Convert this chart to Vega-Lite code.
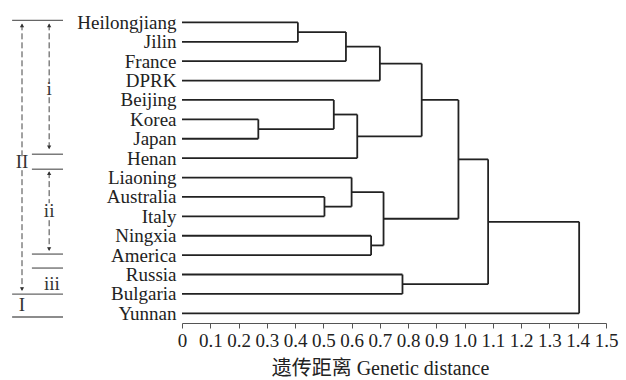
{
  "$schema": "https://vega.github.io/schema/vega-lite/v6.json",
  "width": 424,
  "height": 320,
  "autosize": {"type": "none"},
  "padding": {"left": 182, "top": 3, "right": 20, "bottom": 57},
  "background": "white",
  "config": {"view": {"stroke": null}, "font": "Liberation Serif",
    "axis": {"labelFont": "Liberation Serif", "titleFont": "Liberation Serif, Noto Sans CJK SC"},
    "text": {"font": "Liberation Serif"}},
  "datasets": {
    "seg": [
      {"x": 0, "x2": 0.41, "y": 0, "y2": 0}, {"x": 0, "x2": 0.41, "y": 1, "y2": 1}, {"x": 0.41, "x2": 0.41, "y": 0, "y2": 1},
      {"x": 0.41, "x2": 0.58, "y": 0.5, "y2": 0.5}, {"x": 0, "x2": 0.58, "y": 2, "y2": 2}, {"x": 0.58, "x2": 0.58, "y": 0.5, "y2": 2},
      {"x": 0.58, "x2": 0.70, "y": 1.25, "y2": 1.25}, {"x": 0, "x2": 0.70, "y": 3, "y2": 3}, {"x": 0.70, "x2": 0.70, "y": 1.25, "y2": 3},
      {"x": 0, "x2": 0.27, "y": 5, "y2": 5}, {"x": 0, "x2": 0.27, "y": 6, "y2": 6}, {"x": 0.27, "x2": 0.27, "y": 5, "y2": 6},
      {"x": 0, "x2": 0.537, "y": 4, "y2": 4}, {"x": 0.27, "x2": 0.537, "y": 5.5, "y2": 5.5}, {"x": 0.537, "x2": 0.537, "y": 4, "y2": 5.5},
      {"x": 0.537, "x2": 0.62, "y": 4.75, "y2": 4.75}, {"x": 0, "x2": 0.62, "y": 7, "y2": 7}, {"x": 0.62, "x2": 0.62, "y": 4.75, "y2": 7},
      {"x": 0.70, "x2": 0.848, "y": 2.125, "y2": 2.125}, {"x": 0.62, "x2": 0.848, "y": 5.875, "y2": 5.875}, {"x": 0.848, "x2": 0.848, "y": 2.125, "y2": 5.875},
      {"x": 0, "x2": 0.504, "y": 9, "y2": 9}, {"x": 0, "x2": 0.504, "y": 10, "y2": 10}, {"x": 0.504, "x2": 0.504, "y": 9, "y2": 10},
      {"x": 0, "x2": 0.60, "y": 8, "y2": 8}, {"x": 0.504, "x2": 0.60, "y": 9.5, "y2": 9.5}, {"x": 0.60, "x2": 0.60, "y": 8, "y2": 9.5},
      {"x": 0, "x2": 0.669, "y": 11, "y2": 11}, {"x": 0, "x2": 0.669, "y": 12, "y2": 12}, {"x": 0.669, "x2": 0.669, "y": 11, "y2": 12},
      {"x": 0.60, "x2": 0.713, "y": 8.75, "y2": 8.75}, {"x": 0.669, "x2": 0.713, "y": 11.5, "y2": 11.5}, {"x": 0.713, "x2": 0.713, "y": 8.75, "y2": 11.5},
      {"x": 0.848, "x2": 0.978, "y": 4.0, "y2": 4.0}, {"x": 0.713, "x2": 0.978, "y": 10.125, "y2": 10.125}, {"x": 0.978, "x2": 0.978, "y": 4.0, "y2": 10.125},
      {"x": 0, "x2": 0.78, "y": 13, "y2": 13}, {"x": 0, "x2": 0.78, "y": 14, "y2": 14}, {"x": 0.78, "x2": 0.78, "y": 13, "y2": 14},
      {"x": 0.978, "x2": 1.083, "y": 7.0625, "y2": 7.0625}, {"x": 0.78, "x2": 1.083, "y": 13.5, "y2": 13.5}, {"x": 1.083, "x2": 1.083, "y": 7.0625, "y2": 13.5},
      {"x": 1.083, "x2": 1.405, "y": 10.28125, "y2": 10.28125}, {"x": 0, "x2": 1.405, "y": 15, "y2": 15}, {"x": 1.405, "x2": 1.405, "y": 10.28125, "y2": 15}
    ],
    "hlines": [
      {"x": -0.601, "x2": -0.421, "y": -0.103}, {"x": -0.531, "x2": -0.421, "y": 6.797}, {"x": -0.531, "x2": -0.421, "y": 7.57},
      {"x": -0.531, "x2": -0.421, "y": 11.946}, {"x": -0.531, "x2": -0.421, "y": 12.667}, {"x": -0.601, "x2": -0.421, "y": 14.006},
      {"x": -0.601, "x2": -0.421, "y": 15.19}
    ],
    "dashes": [
      {"x": -0.566, "y": 0.1, "y2": 6.95}, {"x": -0.566, "y": 7.62, "y2": 13.8},
      {"x": -0.470, "y": 0.1, "y2": 3.09}, {"x": -0.470, "y": 3.86, "y2": 6.5},
      {"x": -0.470, "y": 7.72, "y2": 9.32}, {"x": -0.470, "y": 10.2, "y2": 11.74}
    ],
    "arrows": [
      {"x": -0.566, "y": 0.15, "dir": "up"}, {"x": -0.566, "y": 13.75, "dir": "down"},
      {"x": -0.470, "y": 0.15, "dir": "up"}, {"x": -0.470, "y": 6.44, "dir": "down"},
      {"x": -0.470, "y": 7.77, "dir": "up"}, {"x": -0.470, "y": 11.69, "dir": "down"}
    ],
    "labels": [
      {"x": -0.470, "y": 3.45, "t": "i"}, {"x": -0.470, "y": 9.73, "t": "ii"}, {"x": -0.460, "y": 13.49, "t": "iii"},
      {"x": -0.566, "y": 7.21, "t": "II"}, {"x": -0.566, "y": 14.57, "t": "I"}
    ]
  },
  "encoding": {
    "x": {"field": "x", "type": "quantitative", "scale": {"domain": [0, 1.5], "nice": false, "zero": false},
      "axis": {"values": [0, 0.1, 0.2, 0.3, 0.4, 0.5, 0.6, 0.7, 0.8, 0.9, 1.0, 1.1, 1.2, 1.3, 1.4, 1.5],
        "labelExpr": "datum.value == 0 ? '0' : format(datum.value, '.1f')",
        "title": "遗传距离 Genetic distance", "titleFont": "Liberation Serif, Noto Sans CJK SC", "titleFontSize": 20, "titleFontWeight": "normal", "titleColor": "#222",
        "titleX": 198, "titleAlign": "center", "titlePadding": 8,
        "labelFont": "Liberation Serif", "labelFontWeight": "normal", "labelFontSize": 19, "labelColor": "#222", "labelOverlap": false, "labelFlush": false, "labelPadding": 3,
        "tickSize": 5, "tickColor": "#555", "domainColor": "#555", "grid": false}},
    "y": {"field": "y", "type": "quantitative", "scale": {"domain": [-1, 15.5], "reverse": true, "nice": false, "zero": false},
      "axis": {"values": [0, 1, 2, 3, 4, 5, 6, 7, 8, 9, 10, 11, 12, 13, 14, 15],
        "labelExpr": "['Heilongjiang','Jilin','France','DPRK','Beijing','Korea','Japan','Henan','Liaoning','Australia','Italy','Ningxia','America','Russia','Bulgaria','Yunnan'][datum.value]",
        "title": null, "ticks": false, "domain": false, "grid": false, "labelPadding": 6,
        "labelFont": "Liberation Serif", "labelFontWeight": "normal", "labelFontSize": 19, "labelColor": "#222", "labelOverlap": false, "labelBaseline": "middle"}}
  },
  "layer": [
    {
      "data": {"name": "seg"},
      "mark": {"type": "rule", "color": "#222", "strokeWidth": 1.8},
      "encoding": {
        "x2": {"field": "x2"},
        "y2": {"field": "y2"}
      }
    },
    {
      "data": {"name": "hlines"},
      "mark": {"type": "rule", "color": "#666", "strokeWidth": 1.3},
      "encoding": {
        "x2": {"field": "x2"}
      }
    },
    {
      "data": {"name": "dashes"},
      "mark": {"type": "rule", "color": "#444", "strokeWidth": 1, "strokeDash": [6, 3]},
      "encoding": {
        "y2": {"field": "y2"}
      }
    },
    {
      "data": {"name": "arrows"},
      "mark": {"type": "point", "filled": true, "color": "#333", "size": 18, "opacity": 1},
      "encoding": {
        "shape": {"field": "dir", "type": "nominal", "scale": {"domain": ["up", "down"], "range": ["triangle-up", "triangle-down"]}, "legend": null}
      }
    },
    {
      "data": {"name": "labels"},
      "mark": {"type": "text", "font": "Liberation Serif", "fontSize": 19, "color": "#333", "align": "center", "baseline": "middle"},
      "encoding": {
        "text": {"field": "t"}
      }
    }
  ]
}
